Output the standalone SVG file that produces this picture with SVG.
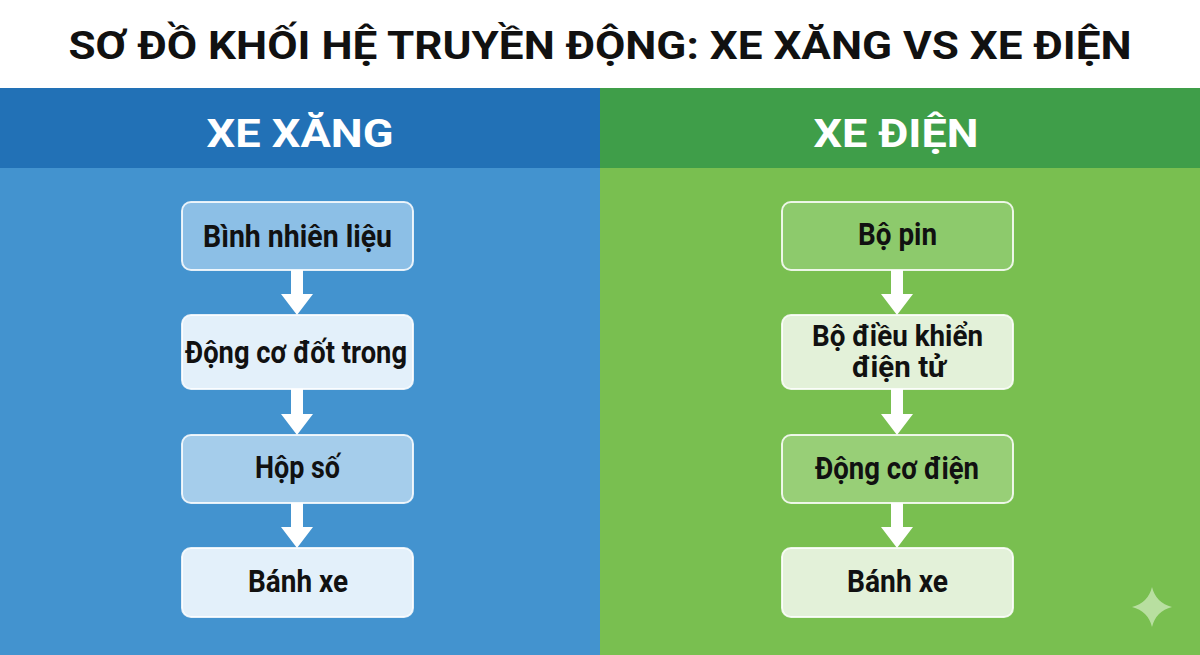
<svg xmlns="http://www.w3.org/2000/svg" width="1200" height="655" viewBox="0 0 1200 655">
<defs>
<style>
.t{font-family:Roboto,"Liberation Sans","Noto Sans",sans-serif;font-weight:700;fill:#111;text-anchor:middle}
.lbl{font-size:31px}
.hd{font-family:Roboto,"Liberation Sans","Noto Sans",sans-serif;font-weight:700;fill:#fff;text-anchor:middle;font-size:38px}
.box{stroke:#ffffff;stroke-opacity:0.85;stroke-width:2}
.arr{fill:#ffffff}
</style>
</defs>
<rect x="0" y="0" width="1200" height="655" fill="#ffffff"/>
<text class="t" x="600" y="59" font-size="38" textLength="1063" lengthAdjust="spacingAndGlyphs">SƠ ĐỒ KHỐI HỆ TRUYỀN ĐỘNG: XE XĂNG VS XE ĐIỆN</text>

<g id="panel-left">
<rect x="0" y="88" width="600" height="80" fill="#2271b6"/>
<rect x="0" y="168" width="600" height="487" fill="#4393cf"/>
<text class="hd" x="300" y="147" textLength="187" lengthAdjust="spacingAndGlyphs">XE XĂNG</text>
</g>
<g id="panel-right">
<rect x="600" y="88" width="600" height="80" fill="#3f9e49"/>
<rect x="600" y="168" width="600" height="487" fill="#79bf50"/>
<text class="hd" x="896" y="147" textLength="165" lengthAdjust="spacingAndGlyphs">XE ĐIỆN</text>
</g>

<g id="connectors">
<path class="arr" d="M291,270 H303 V294 H313 L297,315 L281,294 H291 Z"/>
<path class="arr" d="M291,389 H303 V414 H313 L297,435 L281,414 H291 Z"/>
<path class="arr" d="M291,503 H303 V527 H313 L297,548 L281,527 H291 Z"/>
<path class="arr" d="M891,270 H903 V294 H913 L897,315 L881,294 H891 Z"/>
<path class="arr" d="M891,389 H903 V414 H913 L897,435 L881,414 H891 Z"/>
<path class="arr" d="M891,503 H903 V527 H913 L897,548 L881,527 H891 Z"/>
</g>

<g id="l1"><rect class="box" x="182" y="202" width="231" height="68" rx="9" fill="#8cbfe6"/>
<text class="t lbl" x="297.5" y="247" textLength="189" lengthAdjust="spacingAndGlyphs">Bình nhiên liệu</text></g>
<g id="l2"><rect class="box" x="182" y="315" width="231" height="74" rx="9" fill="#e3f0fa"/>
<text class="t lbl" x="296" y="363" textLength="222" lengthAdjust="spacingAndGlyphs">Động cơ đốt trong</text></g>
<g id="l3"><rect class="box" x="182" y="435" width="231" height="68" rx="9" fill="#a5cdeb"/>
<text class="t lbl" x="297.5" y="478" textLength="85" lengthAdjust="spacingAndGlyphs">Hộp số</text></g>
<g id="l4"><rect class="box" x="182" y="548" width="231" height="69" rx="9" fill="#e3f0fa"/>
<text class="t lbl" x="298" y="592" textLength="100" lengthAdjust="spacingAndGlyphs">Bánh xe</text></g>

<g id="r1"><rect class="box" x="782" y="202" width="231" height="68" rx="9" fill="#8dca6c"/>
<text class="t lbl" x="897.5" y="245" textLength="79" lengthAdjust="spacingAndGlyphs">Bộ pin</text></g>
<g id="r2"><rect class="box" x="782" y="315" width="231" height="74" rx="9" fill="#e3f1d9"/>
<text class="t" font-size="29" x="897.5" y="346" textLength="171" lengthAdjust="spacingAndGlyphs">Bộ điều khiển</text>
<text class="t" font-size="29" x="899" y="377" textLength="94" lengthAdjust="spacingAndGlyphs">điện tử</text></g>
<g id="r3"><rect class="box" x="782" y="435" width="231" height="68" rx="9" fill="#98cf77"/>
<text class="t lbl" x="897" y="479" textLength="164" lengthAdjust="spacingAndGlyphs">Động cơ điện</text></g>
<g id="r4"><rect class="box" x="782" y="548" width="231" height="69" rx="9" fill="#e3f1d9"/>
<text class="t lbl" x="897.5" y="592" textLength="101" lengthAdjust="spacingAndGlyphs">Bánh xe</text></g>

<path d="M1152,587 Q1156,603 1172,607 Q1156,611 1152,627 Q1148,611 1132,607 Q1148,603 1152,587 Z" fill="#b8dfa0"/>
</svg>
